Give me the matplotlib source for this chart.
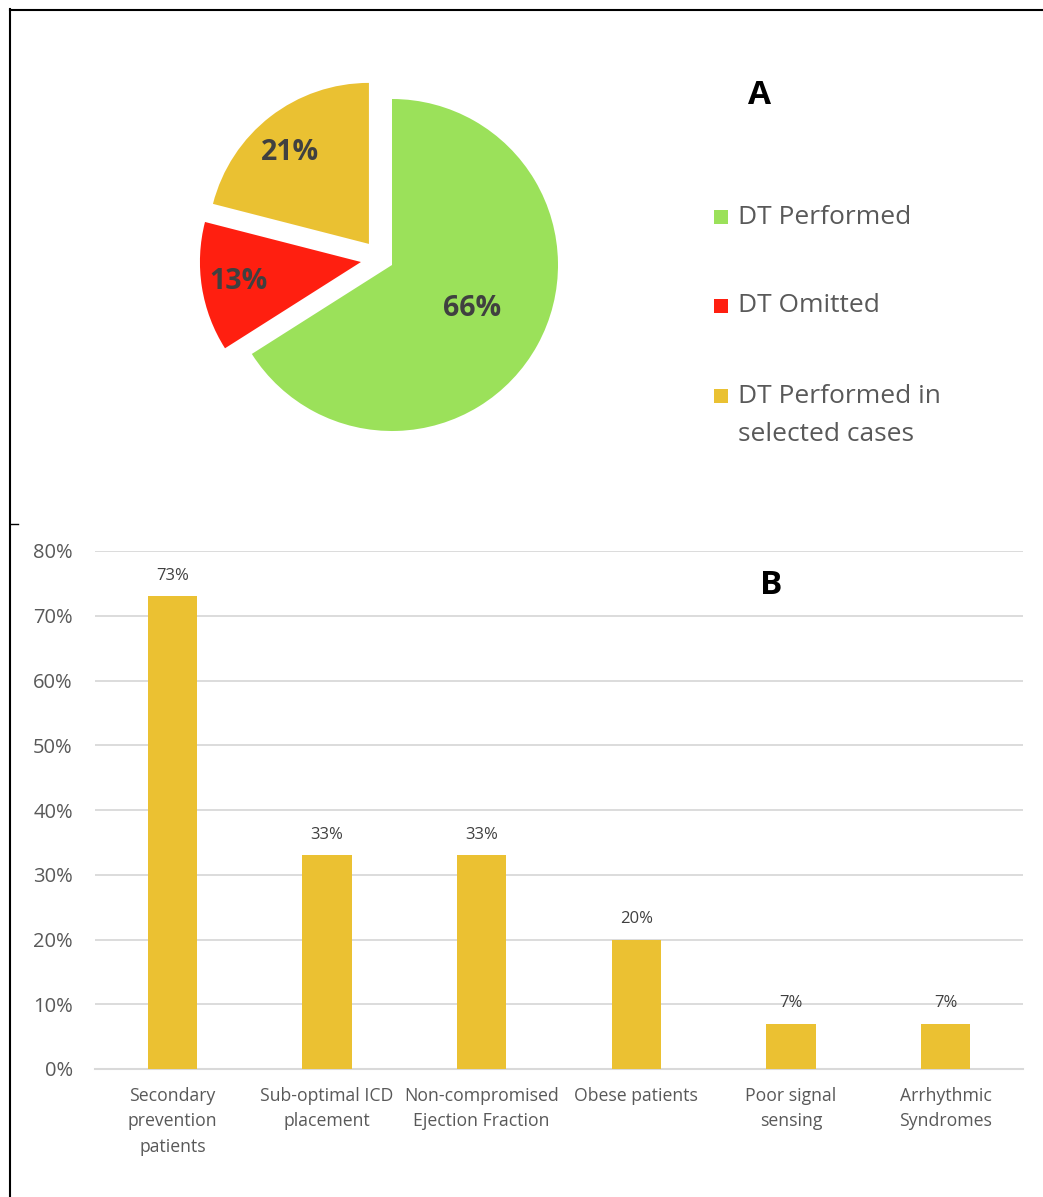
import numpy as np
import matplotlib.pyplot as plt
from matplotlib.lines import Line2D
from matplotlib.patches import Rectangle
from matplotlib.ticker import FuncFormatter

plt.rcParams['font.family'] = ['Open Sans', 'DejaVu Sans']

# Panel A data
pie_labels = ['DT Performed', 'DT Omitted', 'DT Performed in\nselected cases']
pie_values = [66, 13, 21]
pie_colors = ['#9BE15A', '#FF1F10', '#EAC132']

# Panel B data
bar_labels = ['Secondary\nprevention\npatients', 'Sub-optimal ICD\nplacement',
              'Non-compromised\nEjection Fraction', 'Obese patients',
              'Poor signal\nsensing', 'Arrhythmic\nSyndromes']
bar_values = [73, 33, 33, 20, 7, 7]
bar_color = '#EBC132'

W, H = 1043, 1197
fig = plt.figure(figsize=(W / 100, H / 100), dpi=100)


def fx(px):
    return px / W


def fy(py):
    return 1 - py / H


# ---- pie (A) ----
cx, cy, r = 392, 265, 166
x0, x1, y0, y1 = 150, 650, 20, 480
ax_p = fig.add_axes([fx(x0), fy(y1), fx(x1) - fx(x0), (y1 - y0) / H])
wedges, texts, autotexts = ax_p.pie(
    pie_values, colors=pie_colors, startangle=90, counterclock=False,
    autopct='%d%%', radius=1, wedgeprops=dict(linewidth=0))
ax_p.set_xlim((x0 - cx) / r, (x1 - cx) / r)
ax_p.set_ylim((cy - y1) / r, (cy - y0) / r)
ax_p.set_aspect('auto')
ax_p.axis('off')

# pulled-out slices (offsets as in the original layout)
offsets = [(0, 0), (-0.187, 0.018), (-0.139, 0.127)]
radii = [1, 0.97, 0.97]
for w, off, rr in zip(wedges, offsets, radii):
    w.set_center(off)
    w.set_radius(rr)

label_dist = [0.55, 0.75, 0.73]
label_turn = [0, 0, 3]   # small angular nudge in degrees
for w, t, d, a in zip(wedges, autotexts, label_dist, label_turn):
    mid = np.deg2rad((w.theta1 + w.theta2) / 2 + a)
    t.set_position((w.center[0] + d * np.cos(mid), w.center[1] + d * np.sin(mid)))
    t.set_fontsize(20.5)
    t.set_fontweight('bold')
    t.set_color('#404040')
    t.set_ha('center')
    t.set_va('center')

# legend drawn manually to keep the square at the first line
leg_y = [217, 306, 396]
for lab, col, ly in zip(pie_labels, pie_colors, leg_y):
    fig.add_artist(Rectangle((fx(714), fy(ly + 7)), fx(14), 14 / H,
                             facecolor=col, edgecolor='none',
                             transform=fig.transFigure))
    if '\n' in lab:
        fig.text(fx(738), fy(ly - 12), lab, fontsize=19, color='#595959',
                 ha='left', va='top', linespacing=1.68)
    else:
        fig.text(fx(738), fy(ly), lab, fontsize=19, color='#595959',
                 ha='left', va='center')

fig.text(fx(760), fy(96), 'A', fontsize=24, fontweight='bold', color='black',
         ha='center', va='center')

# ---- bars (B) ----
ax_b = fig.add_axes([fx(95), fy(1069), fx(1023) - fx(95), (1069 - 551) / H])
xpos = np.arange(len(bar_values))
ax_b.bar(xpos, bar_values, width=0.32, color=bar_color, zorder=3)
ax_b.set_xlim(-0.5, len(bar_values) - 0.5)
ax_b.set_ylim(0, 80)
ax_b.set_yticks(np.arange(0, 81, 10))
ax_b.yaxis.set_major_formatter(FuncFormatter(lambda v, p: f'{int(v)}%'))
ax_b.grid(axis='y', color='#D9D9D9', linewidth=1.3, zorder=0)
ax_b.set_xticks(xpos)
ax_b.set_xticklabels(bar_labels, fontsize=12.7, color='#595959', linespacing=1.52)
ax_b.tick_params(axis='y', length=0, pad=16, labelsize=14.5, labelcolor='#595959')
ax_b.tick_params(axis='x', length=0, pad=13)
for s in ['top', 'right', 'left']:
    ax_b.spines[s].set_visible(False)
ax_b.spines['bottom'].set_color('#D9D9D9')
ax_b.spines['bottom'].set_linewidth(1.5)
for xp, v in zip(xpos, bar_values):
    ax_b.annotate(f'{v}%', (xp, v), xytext=(0, 9), textcoords='offset points',
                  ha='center', va='bottom', fontsize=12, color='#404040')

fig.text(fx(771), fy(586), 'B', fontsize=24, fontweight='bold', color='black',
         ha='center', va='center')

# frame lines
fig.add_artist(Line2D([fx(10), 1], [fy(9.5), fy(9.5)], color='black', lw=1.5))
fig.add_artist(Line2D([fx(10), fx(10)], [fy(9), 0], color='black', lw=1.5))
fig.add_artist(Line2D([fx(10), fx(18)], [fy(524), fy(524)], color='black', lw=1))

fig.savefig('out.png', dpi=100)
